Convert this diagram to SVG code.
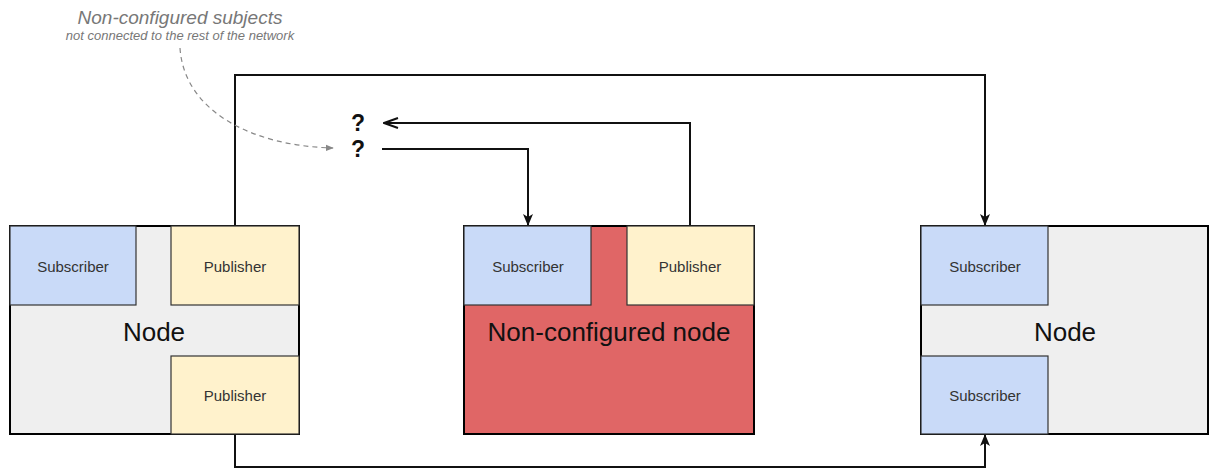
<svg xmlns="http://www.w3.org/2000/svg" width="1209" height="470" viewBox="0 0 1209 470">
<style>
.outer{stroke:#000;stroke-width:2}
.box{stroke:#333;stroke-width:1.2}
.sub{fill:#c9daf8}
.pub{fill:#fff2cc}
.lbl{font-family:"Liberation Sans",Arial,sans-serif;font-size:15px;fill:#333;text-anchor:middle}
.big{font-family:"Liberation Sans",Arial,sans-serif;font-size:26px;fill:#111;text-anchor:middle}
.conn{fill:none;stroke:#111;stroke-width:2}
.q{font-family:"Liberation Sans",Arial,sans-serif;font-size:23px;font-weight:bold;fill:#111;text-anchor:middle}
.note{font-family:"Liberation Sans",Arial,sans-serif;font-style:italic;fill:#777;text-anchor:middle}
</style>
<defs>
<marker id="arr" viewBox="0 0 12 12" refX="11" refY="6" markerWidth="12" markerHeight="12" markerUnits="userSpaceOnUse" orient="auto">
<path d="M0,1 L12,6 L0,11 L3,6 Z" fill="#111"/>
</marker>
<marker id="arrOpen" viewBox="0 0 16 12" refX="15" refY="6" markerWidth="16" markerHeight="12" markerUnits="userSpaceOnUse" orient="auto">
<path d="M1,1 L15,6 L1,11" fill="none" stroke="#111" stroke-width="2"/>
</marker>
<marker id="arrGray" viewBox="0 0 10 10" refX="9" refY="5" markerWidth="8" markerHeight="8" markerUnits="userSpaceOnUse" orient="auto">
<path d="M0,1 L10,5 L0,9 Z" fill="#888"/>
</marker>
</defs>

<g id="connectors">
<path class="conn" d="M235,226 V75 H985 V225" marker-end="url(#arr)"/>
<path class="conn" d="M235,434 V467 H985 V435" marker-end="url(#arr)"/>
<path class="conn" d="M382,149 H528 V225" marker-end="url(#arr)"/>
<path class="conn" d="M690,226 V123 H384" marker-end="url(#arrOpen)"/>
<path d="M180,48 C184,110 250,146 333,148" fill="none" stroke="#888" stroke-width="1.2" stroke-dasharray="5,4" marker-end="url(#arrGray)"/>
</g>

<g id="annotation">
<text class="note" x="180" y="24" font-size="19">Non-configured subjects</text>
<text class="note" x="180" y="40" font-size="13">not connected to the rest of the network</text>
</g>

<g id="subjects">
<text class="q" x="358" y="131">?</text>
<text class="q" x="358" y="157">?</text>
</g>

<g id="node-left">
<rect class="outer" x="10" y="226" width="289" height="208" fill="#efefef"/>
<rect class="box sub" x="10" y="226" width="126" height="79"/>
<text class="lbl" x="73" y="272">Subscriber</text>
<rect class="box pub" x="171" y="226" width="128" height="79"/>
<text class="lbl" x="235" y="272">Publisher</text>
<rect class="box pub" x="171" y="356" width="128" height="78"/>
<text class="lbl" x="235" y="401">Publisher</text>
<text class="big" x="154" y="341">Node</text>
</g>

<g id="node-center">
<rect class="outer" x="464" y="226" width="290" height="208" fill="#e06666"/>
<rect class="box sub" x="464" y="226" width="127" height="79"/>
<text class="lbl" x="528" y="272">Subscriber</text>
<rect class="box pub" x="627" y="226" width="127" height="79"/>
<text class="lbl" x="690" y="272">Publisher</text>
<text class="big" x="609" y="341">Non-configured node</text>
</g>

<g id="node-right">
<rect class="outer" x="921" y="226" width="287" height="208" fill="#efefef"/>
<rect class="box sub" x="921" y="226" width="127" height="79"/>
<text class="lbl" x="985" y="272">Subscriber</text>
<rect class="box sub" x="921" y="356" width="127" height="78"/>
<text class="lbl" x="985" y="401">Subscriber</text>
<text class="big" x="1065" y="341">Node</text>
</g>
</svg>
